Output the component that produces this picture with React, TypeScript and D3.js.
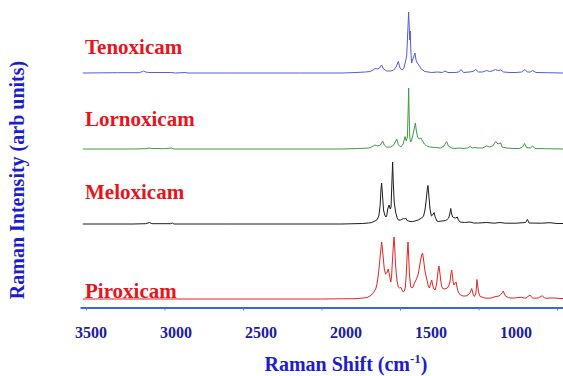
import { useEffect, useRef } from 'react'
import * as d3 from 'd3'

const WIDTH = 563
const HEIGHT = 376
const FONT = "'Liberation Serif', 'Times New Roman', serif"

type Pt = [number, number] // [raman shift cm-1, intensity arb units]

const COMPOUNDS = ['Tenoxicam', 'Lornoxicam', 'Meloxicam', 'Piroxicam']
const COLORS = ['#5858e2', '#3e9c3e', '#1c1c1c', '#e32424']
const OFFSETS = [226, 150, 75, 0]
const LABEL_LIFT = [19, 23, 25, 1]

const X_TICKS = [3500, 3000, 2500, 2000, 1500, 1000, 500]
const X_LABELS = [3500, 3000, 2500, 2000, 1500, 1000]

const TENOXICAM: Pt[] = [
  [3520, 0], [3300, 0.3], [3160, 0.3], [3140, 1.5], [3133, 2], [3120, 1], [3100, 0.5], [2960, 0.5],
  [2930, 0], [2870, 0.5], [2850, 0], [2600, 0], [2140, 0], [1870, 0], [1780, 0.5], [1720, 1],
  [1691, 1.5], [1672, 3], [1659, 4.5], [1645, 4], [1630, 5], [1617, 8], [1605, 4], [1585, 2],
  [1560, 2], [1540, 3], [1525, 6], [1511, 11.5], [1500, 5], [1487, 3], [1475, 5], [1464, 12],
  [1457, 18], [1451, 40], [1445, 61], [1441, 45], [1438, 33], [1435, 42], [1431, 22], [1426, 10],
  [1418, 14], [1411, 17], [1405, 20], [1398, 13], [1390, 10], [1380, 8], [1365, 4], [1341, 1.5],
  [1300, 0.5], [1260, 1], [1230, 0.5], [1214, 2], [1195, 0.5], [1150, 0.5], [1125, 1], [1112, 3.5],
  [1095, 0.5], [1060, 1], [1035, 1.5], [1018, 3.5], [1000, 1], [975, 1], [948, 2.5], [930, 1.5],
  [914, 2], [891, 3.5], [876, 2.5], [859, 3], [840, 1], [800, 0.5], [760, 0.5], [725, 1],
  [704, 3.5], [690, 1], [670, 1], [655, 2.5], [634, 0.5], [560, 0.3], [462, 0],
]

const LORNOXICAM: Pt[] = [
  [3520, 0], [3200, 0], [3120, 0.3], [3095, 1], [3080, 0.5], [3000, 0.3], [2955, 1], [2940, 0],
  [2500, 0], [1870, 0], [1760, 0.5], [1700, 1], [1680, 2], [1660, 4], [1645, 3], [1625, 4],
  [1610, 8], [1600, 4], [1585, 2], [1560, 2], [1540, 4], [1521, 10], [1510, 4], [1495, 2],
  [1480, 5], [1468, 12.5], [1460, 8], [1453, 12], [1448, 40], [1445, 61], [1442, 35], [1438, 12],
  [1432, 7], [1426, 9], [1418, 14], [1410, 20], [1402, 26], [1396, 18], [1388, 12], [1378, 10],
  [1368, 11], [1360, 9], [1345, 5], [1330, 3], [1310, 2], [1280, 1.5], [1240, 1], [1220, 3],
  [1203, 7.5], [1192, 3], [1170, 1], [1150, 0.5], [1120, 1], [1100, 0.5], [1070, 1], [1054, 2.5],
  [1040, 1], [1022, 1.5], [1000, 1], [975, 1], [948, 3], [930, 2], [910, 3], [891, 7.5],
  [876, 5], [859, 6], [850, 2], [820, 1], [780, 0.5], [740, 0.5], [720, 2], [707, 5.5],
  [695, 1.5], [670, 1], [655, 3], [640, 0.5], [580, 0.3], [462, 0],
]

const MELOXICAM: Pt[] = [
  [3520, 0], [3200, 0], [3120, 0.3], [3095, 1.5], [3080, 0.3], [2960, 0.3], [2950, 1], [2940, 0],
  [2600, 0], [1870, 0], [1740, 0.5], [1700, 1], [1680, 1.5], [1660, 3], [1648, 4], [1635, 8],
  [1627, 18], [1621, 35], [1617, 41], [1612, 30], [1605, 14], [1597, 9], [1590, 7], [1585, 8],
  [1578, 15], [1570, 19], [1562, 15], [1557, 17], [1552, 40], [1547, 62], [1543, 42], [1537, 22],
  [1528, 12], [1518, 6], [1511, 4], [1495, 4], [1479, 5.5], [1470, 5], [1464, 6], [1455, 3.5],
  [1436, 2.5], [1420, 2.5], [1405, 3], [1385, 4], [1362, 6], [1350, 8], [1341, 14], [1333, 24],
  [1327, 34], [1322, 38.5], [1317, 30], [1309, 15], [1300, 8], [1292, 9], [1283, 11.5], [1276, 7],
  [1265, 3], [1256, 2.5], [1233, 3], [1210, 3.5], [1200, 4.5], [1190, 6], [1183, 10], [1177, 15.5],
  [1171, 10], [1165, 7], [1158, 6.5], [1146, 6], [1135, 7], [1128, 4], [1118, 2], [1090, 1.5],
  [1054, 2], [1030, 1], [1000, 1], [948, 1.5], [900, 0.8], [863, 1.5], [830, 0.8], [760, 0.8],
  [700, 1.5], [689, 4.5], [678, 1], [600, 0.8], [545, 1.3], [500, 0.5], [462, 0.5],
]

const PIROXICAM: Pt[] = [
  [3520, 0], [3000, 0], [2500, 0], [2000, 0], [1800, 0.3], [1760, 0.5], [1734, 1], [1710, 1.5],
  [1691, 3], [1670, 6], [1655, 10], [1648, 14], [1640, 22], [1634, 30], [1625, 45], [1617, 57],
  [1609, 45], [1600, 30], [1592, 25], [1585, 26], [1575, 30], [1567, 24], [1559, 17], [1554, 22],
  [1549, 36], [1543, 52], [1538, 62], [1533, 50], [1529, 35], [1519, 18], [1511, 12], [1503, 11],
  [1494, 11.5], [1487, 9], [1479, 7], [1472, 8], [1466, 12], [1460, 25], [1455, 42], [1449, 57],
  [1444, 40], [1440, 25], [1432, 12], [1424, 11], [1417, 12], [1408, 16], [1398, 19], [1390, 22],
  [1384, 25], [1376, 32], [1370, 38], [1362, 44], [1356, 46], [1349, 38], [1341, 28], [1330, 20],
  [1320, 13], [1313, 11], [1306, 15], [1298, 19], [1292, 14], [1287, 11], [1277, 9], [1268, 14],
  [1262, 22], [1256, 30], [1252, 33], [1246, 26], [1241, 19], [1235, 13], [1228, 10.5], [1214, 10],
  [1199, 11], [1190, 13], [1182, 17], [1176, 25], [1171, 29], [1165, 22], [1162, 17], [1156, 14],
  [1149, 16], [1143, 17], [1136, 11], [1129, 7], [1115, 4], [1099, 3], [1080, 3], [1067, 4],
  [1055, 6], [1043, 10.5], [1035, 5], [1027, 2.5], [1018, 5], [1014, 10], [1010, 19.5], [1004, 12],
  [1000, 7], [990, 2.5], [970, 1.5], [952, 0.7], [920, 1], [895, 2.3], [870, 3], [855, 5],
  [842, 8], [835, 5], [828, 3], [810, 1.5], [800, 1], [770, 1], [749, 1.5], [725, 1.7],
  [710, 1], [697, 1], [685, 2.5], [672, 4], [660, 1.5], [653, 0.8], [620, 1], [594, 3.3],
  [580, 1], [570, 0.7], [545, 1], [513, 1], [490, 0.5], [462, 0.5],
]

const SPECTRA = [TENOXICAM, LORNOXICAM, MELOXICAM, PIROXICAM]

export default function App() {
  const svgRef = useRef<SVGSVGElement>(null)

  useEffect(() => {
    const svg = d3.select(svgRef.current)
    svg.selectAll('*').remove()

    // ── Scales ──────────────────────────────────────────────────────────────
    const x = d3.scaleLinear([3538, 462], [80, 563])
    const y = d3.scaleLinear([0, 300], [299, -1])
    // tick labels in the original sit on their own (wider) spacing
    const xLabel = d3.scaleLinear([3500, 1000], [91, 516])

    // ── Spectra ─────────────────────────────────────────────────────────────
    SPECTRA.forEach((data, i) => {
      const off = OFFSETS[i]
      svg.append('path')
        .datum(data)
        .attr('d', d3.line<Pt>().x(d => x(d[0])).y(d => y(d[1] + off)))
        .attr('fill', 'none').attr('stroke', COLORS[i]).attr('stroke-width', 1)
        .attr('stroke-linejoin', 'round')
    })

    // ── Compound labels ─────────────────────────────────────────────────────
    COMPOUNDS.forEach((name, i) => {
      svg.append('text')
        .attr('x', 85).attr('y', y(OFFSETS[i]) - LABEL_LIFT[i])
        .attr('font-family', FONT).attr('font-weight', 'bold').attr('font-size', 21)
        .attr('fill', '#e8141c')
        .text(name)
    })

    // ── X axis ──────────────────────────────────────────────────────────────
    svg.append('g')
      .attr('transform', 'translate(0,307.5)')
      .call(d3.axisBottom(x).tickValues(X_TICKS).tickSize(3).tickSizeOuter(0).tickFormat(() => ''))
      .call(ag => ag.select('.domain').attr('stroke', '#3468e0').attr('stroke-width', 2.2))
      .call(ag => ag.selectAll('.tick line').attr('stroke', '#5a7ad8').attr('stroke-width', 1))

    svg.append('g')
      .selectAll('text')
      .data(X_LABELS)
      .join('text')
      .attr('x', d => xLabel(d)).attr('y', 338)
      .attr('text-anchor', 'middle')
      .attr('font-family', FONT).attr('font-weight', 'bold').attr('font-size', 16)
      .attr('fill', '#1c1c9e')
      .text(d => d)

    // ── Axis titles ─────────────────────────────────────────────────────────
    const xt = svg.append('text')
      .attr('x', 346).attr('y', 371)
      .attr('text-anchor', 'middle')
      .attr('font-family', FONT).attr('font-weight', 'bold').attr('font-size', 20)
      .attr('fill', '#1d1dd0')
    xt.append('tspan').text('Raman Shift (cm')
    xt.append('tspan').attr('dy', -8).attr('font-size', 13).text('-1')
    xt.append('tspan').attr('dy', 8).text(')')

    svg.append('text')
      .attr('transform', 'translate(24,180) rotate(-90)')
      .attr('text-anchor', 'middle')
      .attr('font-family', FONT).attr('font-weight', 'bold').attr('font-size', 20)
      .attr('fill', '#1d1dd0')
      .text('Raman Intensity (arb units)')
  }, [])

  return (
    <svg
      ref={svgRef}
      width={WIDTH}
      height={HEIGHT}
      style={{ position: 'absolute', left: 0, top: 0, background: '#fff' }}
    />
  )
}
